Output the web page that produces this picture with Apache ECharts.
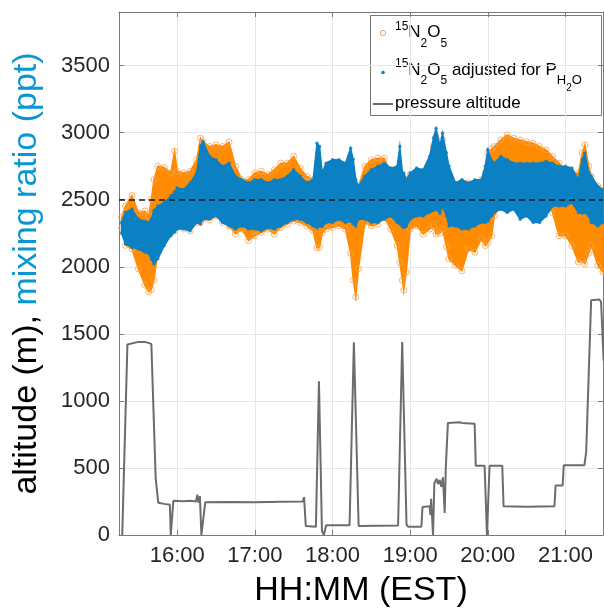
<!DOCTYPE html>
<html>
<head>
<meta charset="utf-8">
<script src="https://cdn.jsdelivr.net/npm/echarts@6/dist/echarts.min.js"></script>
<style>
html,body{margin:0;padding:0;background:#fff;}
#chart{width:604px;height:613px;}
</style>
</head>
<body>
<div id="chart"></div>
<script>
// ---- data ----
const envTimes = [
 '15:17','15:20','15:25','15:30','15:35','15:38','15:40','15:42','15:45','15:50','15:55','15:58',
 '16:00','16:05','16:10','16:15','16:18','16:20','16:25','16:30','16:35','16:40','16:45','16:50','16:55',
 '17:00','17:05','17:10','17:15','17:20','17:25','17:30','17:35','17:40','17:45','17:48','17:50','17:52','17:55',
 '18:00','18:05','18:10','18:14','18:16','18:18','18:20','18:25','18:30','18:35','18:40','18:45','18:50','18:52','18:54','18:55','18:57',
 '19:00','19:05','19:10','19:15','19:18','19:20','19:23','19:25','19:28','19:30','19:35','19:40','19:45','19:50','19:55','19:58',
 '20:00','20:03','20:05','20:10','20:15','20:20','20:25','20:30','20:35','20:40','20:45','20:50','20:55',
 '21:00','21:05','21:10','21:13','21:15','21:18','21:20','21:25','21:29'
];
// 15N2O5 (raw) upper / lower envelope of the point cloud (ppt)
const orangeTop = [
 2370,2453,2532,2404,2416,2380,2502,2650,2750,2740,2700,2860,
 2712,2700,2712,2798,2960,2933,2897,2909,2897,2930,2749,2650,2650,
 2700,2712,2687,2724,2773,2773,2823,2736,2675,2650,2700,2650,2640,2650,
 2675,2675,2700,2680,2650,2589,2601,2749,2798,2810,2810,2700,2712,2700,2680,2650,2650,
 2687,2700,2675,2773,2900,2970,2880,2946,2700,2675,2601,2601,2626,2626,2650,2700,
 2847,2880,2897,2946,2983,2958,2946,2933,2921,2897,2872,2823,2773,
 2724,2700,2700,2850,2909,2750,2675,2601,2576
];
const orangeBottom = [
 2290,2160,2133,1985,1862,1813,1830,1900,2108,2207,2250,2270,
 2305,2281,2268,2330,2330,2355,2350,2380,2330,2305,2244,2281,2195,
 2232,2256,2280,2244,2293,2318,2342,2330,2305,2268,2140,2145,2250,2281,
 2293,2305,2281,2100,1900,1776,1985,2330,2305,2318,2367,2281,2158,2030,1900,1825,1961,
 2281,2305,2244,2281,2300,2244,2250,2281,2150,2059,2010,1970,2133,2108,2207,2158,
 2180,2232,2380,2470,2460,2480,2480,2480,2490,2490,2478,2404,2232,
 2232,2158,2035,2050,2022,2100,2158,2010,1961
];
// 15N2O5 adjusted for P_H2O, upper / lower envelope (ppt)
const blueTop = [
 2330,2404,2429,2355,2340,2330,2355,2420,2453,2478,2527,2560,
 2589,2576,2626,2700,2900,2933,2823,2798,2749,2773,2675,2650,2626,
 2650,2650,2626,2650,2650,2675,2724,2675,2626,2650,2921,2897,2700,2773,
 2798,2798,2773,2884,2800,2650,2601,2675,2724,2749,2773,2736,2749,2897,2700,2700,2650,
 2700,2736,2724,2823,2960,3032,2900,2995,2850,2749,2626,2650,2626,2650,2650,2750,
 2872,2790,2773,2823,2798,2773,2773,2773,2773,2773,2786,2773,2749,
 2749,2736,2650,2800,2847,2700,2675,2601,2576
];
const blueBottom = [
 2250,2170,2145,2133,2108,2100,2059,2020,2060,2158,2232,2260,
 2281,2281,2268,2330,2320,2355,2355,2380,2330,2305,2281,2305,2281,
 2281,2268,2293,2281,2305,2330,2355,2355,2330,2305,2290,2305,2300,2330,
 2330,2355,2330,2340,2320,2305,2355,2355,2330,2330,2355,2379,2330,2320,2300,2293,2300,
 2355,2379,2379,2404,2420,2429,2400,2453,2380,2305,2305,2281,2281,2305,2330,2330,
 2340,2380,2404,2429,2404,2429,2355,2379,2330,2330,2379,2453,2453,
 2453,2478,2404,2400,2404,2380,2330,2305,2330
];
// pressure altitude (m)
const altTimes = [
 '15:17:30','15:18:30','15:21:30','15:23:00','15:30:00','15:35:00','15:40:00','15:41:00','15:43:20','15:45:20','15:50:00','15:54:20','15:55:00','15:56:00','15:57:00',
 '16:05:00','16:10:00','16:14:30','16:15:30','16:16:30','16:17:30','16:18:40','16:19:40','16:21:40','16:40:00',
 '17:00:00','17:20:00','17:37:00','17:38:00','17:39:20','17:47:10','17:49:30','17:51:50','17:53:20','17:55:00',
 '18:13:10','18:16:30','18:17:20','18:20:10','18:50:40','18:53:50','18:54:30','18:57:10','18:58:20',
 '19:08:40','19:09:30','19:15:00','19:15:40','19:16:10','19:16:50','19:17:40','19:18:40','19:20:30','19:21:30','19:22:50','19:24:00','19:25:20','19:26:40','19:27:30','19:29:10','19:38:10','19:40:00','19:49:50','19:50:40','19:57:30','19:59:20',
 '20:01:20','20:11:10','20:12:10','20:30:00','20:51:30','20:52:20','20:57:50','20:58:40',
 '21:14:40','21:16:00','21:19:50','21:26:10','21:27:30','21:29:30'
];
const altValues = [
 0,0,1420,1430,1440,1440,1425,1420,425,240,232,225,0,0,255,
 252,255,250,300,240,290,0,0,245,247,
 245,248,250,282,67,62,1146,30,0,72,
 72,1437,1437,67,71,1439,1430,79,62,
 62,209,214,150,270,150,0,386,420,380,410,360,430,165,497,836,841,836,829,516,516,0,
 516,516,214,210,214,369,369,521,
 521,620,1751,1756,1740,1300
];
const refLevel = 2500;
const xTickLabels = ['16:00','17:00','18:00','19:00','20:00','21:00'];
const yTickValues = [0,500,1000,1500,2000,2500,3000,3500];
const xRange = ['15:15','21:29'];
const yRange = [0, 3900];

// ---- helpers ----
function toMin(s){ const p = s.split(':').map(Number); return p[0]*60 + p[1] + (p[2]||0)/60; }
function fmt(v){ const h = Math.floor(v/60), m = Math.round(v - h*60); return h + ':' + (m < 10 ? '0' : '') + m; }

const envMin = envTimes.map(toMin);
const xTickVals = xTickLabels.map(toMin);
const FONT = 'Liberation Sans, Arial, Helvetica, sans-serif';
const ORANGE = '#ff8c00', ORANGE_EDGE = '#f6a35a', BLUE = '#0b80c3', LBLUE = '#0a96d2', GRAY = '#6c6c6c';
const AXC = '#7a7a7a', GRID = '#e6e6e6';

function bandSeries(top, bot, color, z){
  return {
    type: 'custom', coordinateSystem: 'cartesian2d', z: z, silent: true,
    data: [[envMin[0], top[0]]],
    renderItem: function(params, api){
      const pts = [];
      for (let i = 0; i < envMin.length; i++) pts.push(api.coord([envMin[i], top[i]]));
      for (let i = envMin.length - 1; i >= 0; i--) pts.push(api.coord([envMin[i], bot[i]]));
      return { type: 'polygon', shape: { points: pts }, style: { fill: color, stroke: color, lineWidth: 1.5 } };
    }
  };
}
function edgePoints(top, bot){
  return envMin.map((t,i)=>[t, top[i]]).concat(envMin.map((t,i)=>[t, bot[i]]));
}

// legend text with super/subscripts: fragments laid out left to right
const mctx = document.createElement('canvas').getContext('2d');
function textRun(x0, frags){
  const out = []; let x = x0;
  frags.forEach(f => {
    const font = f.s + 'px ' + FONT;
    mctx.font = font;
    out.push({ type: 'text', x: x, y: f.y, style: { text: f.t, font: font, fill: '#000', align: 'left', verticalAlign: 'middle' } });
    x += mctx.measureText(f.t).width;
  });
  return out;
}
const legendTexts = []
  .concat(textRun(395, [
    {t:'15', s:12, y:26.2}, {t:'N', s:17, y:32.2}, {t:'2', s:12, y:43.4}, {t:'O', s:17, y:32.2}, {t:'5', s:12, y:43.4}
  ]))
  .concat(textRun(395, [
    {t:'15', s:12, y:63.7}, {t:'N', s:17, y:69.9}, {t:'2', s:12, y:81.1}, {t:'O', s:17, y:69.9}, {t:'5', s:12, y:81.1},
    {t:' adjusted for P', s:17, y:69.9}, {t:'H', s:13, y:80.3}, {t:'2', s:10, y:88.1}, {t:'O', s:13, y:80.3}
  ]))
  .concat(textRun(395, [ {t:'pressure altitude', s:17, y:103} ]));

const chart = echarts.init(document.getElementById('chart'), null, {renderer: 'canvas'});
const xMin = toMin(xRange[0]), xMax = toMin(xRange[1]);

const option = {
  animation: false,
  backgroundColor: '#fff',
  grid: { left: 119, top: 12, width: 484, height: 529, containLabel: false },
  xAxis: [{
    type: 'value', min: xMin, max: xMax, position: 'bottom',
    axisLine: { show: true, onZero: false, lineStyle: { color: AXC, width: 1 } },
    axisTick: { show: true, inside: true, length: 5, customValues: xTickVals, lineStyle: { color: AXC } },
    axisLabel: { customValues: xTickVals, formatter: fmt, fontSize: 22, color: '#262626', margin: 10, fontFamily: FONT },
    splitLine: { show: true, lineStyle: { color: GRID, width: 1 } },
    name: 'HH:MM (EST)', nameLocation: 'middle', nameGap: 39,
    nameTextStyle: { fontSize: 34, color: '#000', fontFamily: FONT }
  }, {
    type: 'value', min: xMin, max: xMax, position: 'top',
    axisLine: { show: true, onZero: false, lineStyle: { color: AXC, width: 1 } },
    axisTick: { show: true, inside: true, length: 5, customValues: xTickVals, lineStyle: { color: AXC } },
    axisLabel: { show: false }, splitLine: { show: false }
  }],
  yAxis: [{
    type: 'value', min: yRange[0], max: yRange[1], interval: 500, position: 'left',
    axisLine: { show: true, onZero: false, lineStyle: { color: AXC, width: 1 } },
    axisTick: { show: true, inside: true, length: 5, customValues: yTickValues, lineStyle: { color: AXC } },
    axisLabel: { customValues: yTickValues, formatter: v => String(v), fontSize: 22, color: '#262626', margin: 9, fontFamily: FONT },
    splitLine: { show: true, lineStyle: { color: GRID, width: 1 } },
    name: '{a|altitude (m), }{b|mixing ratio (ppt)}', nameLocation: 'middle', nameGap: 75,
    nameTextStyle: { fontSize: 34, fontFamily: FONT,
      rich: { a: { fontSize: 34, color: '#000', fontFamily: FONT }, b: { fontSize: 34, color: LBLUE, fontFamily: FONT } } }
  }, {
    type: 'value', min: yRange[0], max: yRange[1], interval: 500, position: 'right',
    axisLine: { show: true, onZero: false, lineStyle: { color: AXC, width: 1 } },
    axisTick: { show: true, inside: true, length: 5, customValues: yTickValues, lineStyle: { color: AXC } },
    axisLabel: { show: false }, splitLine: { show: false }
  }],
  series: [
    bandSeries(orangeTop, orangeBottom, ORANGE, 2),
    { type: 'scatter', z: 2, silent: true, data: edgePoints(orangeTop, orangeBottom), symbol: 'circle', symbolSize: 6,
      itemStyle: { color: 'rgba(0,0,0,0)', borderColor: ORANGE_EDGE, borderWidth: 1 } },
    bandSeries(blueTop, blueBottom, BLUE, 3),
    { type: 'scatter', z: 3, silent: true, data: edgePoints(blueTop, blueBottom), symbol: 'circle', symbolSize: 3.5,
      itemStyle: { color: BLUE } },
    { type: 'line', z: 4, silent: true, showSymbol: false, data: altTimes.map((t,i)=>[toMin(t), altValues[i]]),
      lineStyle: { color: GRAY, width: 2 }, itemStyle: { color: GRAY }, clip: true },
    { type: 'line', z: 5, data: [], silent: true,
      markLine: { silent: true, symbol: 'none', label: { show: false },
        lineStyle: { color: '#1a1a1a', width: 1.5, type: [6, 4] }, data: [{ yAxis: refLevel }] } }
  ],
  graphic: [{
    type: 'group', z: 100, children: [
      { type: 'rect', shape: { x: 370.5, y: 15.5, width: 231, height: 100 }, style: { fill: '#fff', stroke: '#777', lineWidth: 1 } },
      { type: 'circle', shape: { cx: 383, cy: 33, r: 2.6 }, style: { fill: 'none', stroke: ORANGE_EDGE, lineWidth: 1 } },
      { type: 'circle', shape: { cx: 383, cy: 72.5, r: 1.8 }, style: { fill: BLUE } },
      { type: 'line', shape: { x1: 373, y1: 104, x2: 393, y2: 104 }, style: { stroke: GRAY, lineWidth: 2 } }
    ].concat(legendTexts)
  }]
};
chart.setOption(option);
</script>
</body>
</html>
